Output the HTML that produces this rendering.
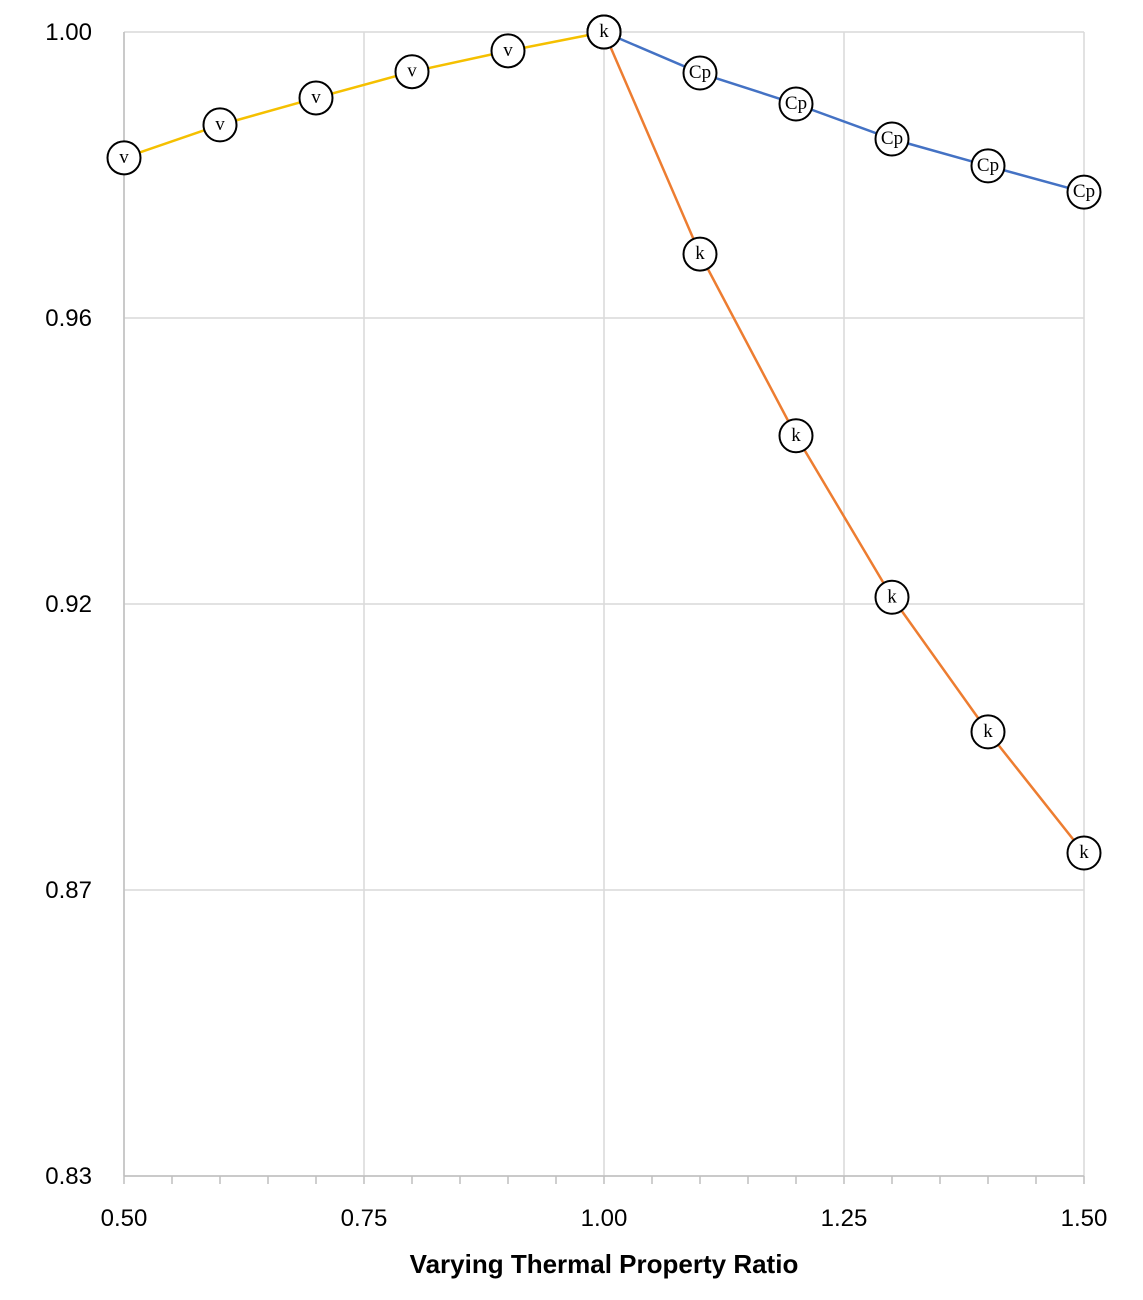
<!DOCTYPE html>
<html><head><meta charset="utf-8">
<style>
html,body{margin:0;padding:0;background:#fff;width:1143px;height:1300px;overflow:hidden}
svg{display:block}
.tick{font-family:"Liberation Sans",sans-serif;font-size:24px;fill:#000}
.mk{font-family:"Liberation Serif",serif;font-size:19px;fill:#000}
</style></head>
<body>
<svg id="chart" width="1143" height="1300" xmlns="http://www.w3.org/2000/svg">
<text x="604" y="1273" text-anchor="middle" font-family="Liberation Sans, sans-serif" font-weight="bold" font-size="26">Varying Thermal Property Ratio</text>
</svg>
<script>
const xTicks=[0.5,0.75,1.0,1.25,1.5];
const xTickLabels=["0.50","0.75","1.00","1.25","1.50"];
const yTicks=[1.0,0.9575,0.915,0.8725,0.83];
const yTickLabels=["1.00","0.96","0.92","0.87","0.83"];
const vX=[0.5,0.6,0.7,0.8,0.9,1.0];
const vY=[0.9813,0.9862,0.9902,0.9941,0.9972,1.0];
const cpX=[1.0,1.1,1.2,1.3,1.4,1.5];
const cpY=[1.0,0.9939,0.9893,0.9841,0.9801,0.9762];
const kX=[1.0,1.1,1.2,1.3,1.4,1.5];
const kY=[1.0,0.9670,0.9400,0.9160,0.8960,0.8780];

const svg=document.getElementById('chart');
const NS='http://www.w3.org/2000/svg';
const L=124,R=1084,T=32,B=1176;
const xMin=0.5,xMax=1.5,yMin=0.83,yMax=1.0;
function sx(v){return L+(v-xMin)/(xMax-xMin)*(R-L);}
function sy(v){return B-(v-yMin)/(yMax-yMin)*(B-T);}
function mk(tag,attrs){const e=document.createElementNS(NS,tag);for(const k in attrs)e.setAttribute(k,attrs[k]);svg.insertBefore(e,svg.lastElementChild);return e;}

yTicks.forEach((t,i)=>{
  const g=mk('line',{x1:L,x2:R,y1:sy(t),y2:sy(t),stroke:'#d9d9d9','stroke-width':1.5});
  
  
  const tx=mk('text',{x:92,y:sy(t)+8,'text-anchor':'end',class:'tick'});
  tx.textContent=yTickLabels[i];
  
  
});
xTicks.forEach((t,i)=>{
  const g=mk('line',{x1:sx(t),x2:sx(t),y1:T,y2:B,stroke:'#d9d9d9','stroke-width':1.5});
  
  
  const tx=mk('text',{x:sx(t),y:1226,'text-anchor':'middle',class:'tick'});
  tx.textContent=xTickLabels[i];
  
  
});
for(let i=0;i<=20;i++){
  const v=xMin+i*0.05;
  const m=mk('line',{x1:sx(v),x2:sx(v),y1:B,y2:B+8,stroke:'#bfbfbf','stroke-width':1.5});
  
  
}
const ax=mk('line',{x1:L,x2:R,y1:B,y2:B,stroke:'#bfbfbf','stroke-width':1.5});


const ay=mk('line',{x1:L,x2:L,y1:T,y2:B,stroke:'#bfbfbf','stroke-width':1.5});



function series(xs,ys,color,label,name){
  const pts=xs.map((x,i)=>sx(x)+','+sy(ys[i])).join(' ');
  const pl=mk('polyline',{points:pts,fill:'none',stroke:color,'stroke-width':2.5});
  
  
  return ()=>xs.forEach((x,i)=>{
    const c=mk('circle',{cx:sx(x),cy:sy(ys[i]),r:16.5,fill:'#fff',stroke:'#000','stroke-width':2});
    
    
    const t=mk('text',{x:sx(x),y:sy(ys[i])+5,'text-anchor':'middle',class:'mk'});
    t.textContent=label;
    
    
  });
}
const d1=series(vX,vY,'#f5c000','v','viscosity-series');
const d2=series(cpX,cpY,'#4472c4','Cp','cp-series');
const d3=series(kX,kY,'#ed7d31','k','conductivity-series');
d1();d2();d3();
</script>
</body></html>
